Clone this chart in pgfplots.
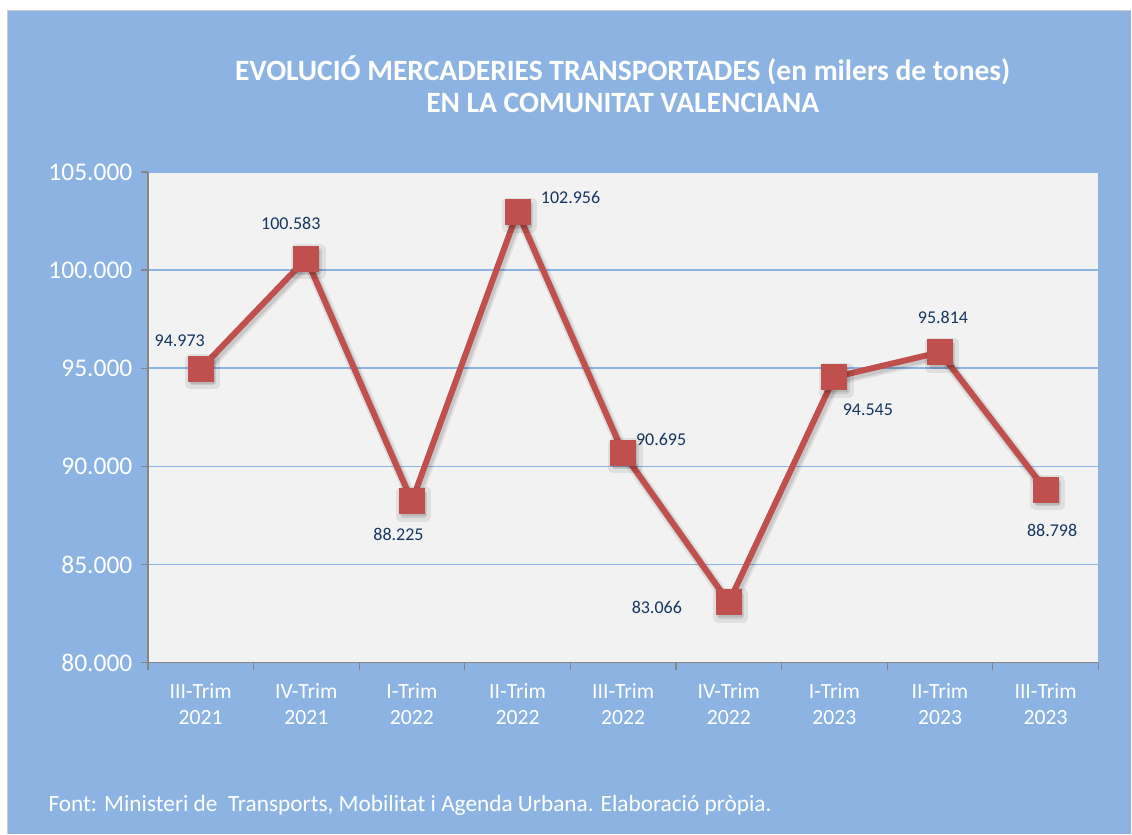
\documentclass[border=0pt]{standalone}
\usepackage{pgfplots}
\pgfplotsset{compat=1.18}
\usepackage{fontspec}
\setmainfont{Carlito}
\definecolor{bgblue}{RGB}{141,179,226}
\definecolor{plotbg}{RGB}{242,242,242}
\definecolor{gridblue}{RGB}{141,179,226}
\definecolor{linered}{RGB}{192,80,77}
\definecolor{labnavy}{RGB}{23,55,94}
\definecolor{axgray}{RGB}{134,134,134}
\pgfplotstableread{
x y
0 94973
1 100583
2 88225
3 102956
4 90695
5 83066
6 94545
7 95814
8 88798
}\datatable
\begin{document}
\begin{tikzpicture}[x=1pt,y=1pt]
\fill[white] (0,0) rectangle (1132,834);
\fill[bgblue] (8,0) rectangle (1132,823);
\draw[gray!40,line width=1.2pt] (7.5,0) -- (7.5,823.5) -- (1132,823.5);
\node[text=white,font=\fontsize{29.5}{34}\selectfont\bfseries] at (623,764) {EVOLUCIÓ MERCADERIES TRANSPORTADES (en milers de tones)};
\node[text=white,font=\fontsize{29.5}{34}\selectfont\bfseries] at (623,731) {EN LA COMUNITAT VALENCIANA};
\node[text=white,anchor=west,font=\fontsize{23.3}{27}\selectfont] at (45,28) {Font: Ministeri de\ \ Transports, Mobilitat i Agenda Urbana. Elaboració pròpia.};
\begin{axis}[
  at={(148pt,171pt)}, anchor=south west,
  scale only axis, width=951pt, height=491pt,
  xmin=-0.5, xmax=8.5, ymin=80000, ymax=105000,
  scaled y ticks=false,
  axis background/.style={fill=plotbg},
  axis x line*=bottom, axis y line*=left,
  axis line style={axgray, line width=1.2pt, -},
  xtick={0,...,8},
  xticklabels={{III-Trim\\2021},{IV-Trim\\2021},{I-Trim\\2022},{II-Trim\\2022},{III-Trim\\2022},{IV-Trim\\2022},{I-Trim\\2023},{II-Trim\\2023},{III-Trim\\2023}},
  x tick label style={align=center, text=white, font=\fontsize{21.7}{26}\selectfont, yshift=-10pt},
  major x tick style={draw=none},
  minor xtick={-0.5,0.5,...,8.5},
  minor x tick style={axgray, line width=1.2pt},
  minor tick length=7pt,
  ytick={80000,85000,90000,95000,100000,105000},
  yticklabels={80.000,85.000,90.000,95.000,100.000,105.000},
  y tick label style={text=white, font=\fontsize{25.5}{29}\selectfont, xshift=-5pt},
  major y tick style={axgray, line width=1.2pt},
  major tick length=7pt,
  tick align=outside,
  ymajorgrids, major grid style={gridblue, line width=1.5pt},
  /pgf/number format/assume math mode=true,
  clip=false,
]
\addplot[black, opacity=0.08, line width=11pt, line join=round, xshift=2pt, yshift=-3pt,
  mark=square*, mark size=12pt, mark options={draw=none, fill=black}] table[x=x,y=y]{\datatable};
\addplot[black, opacity=0.10, line width=7pt, line join=round, xshift=2pt, yshift=-3pt,
  mark=square*, mark size=10pt, mark options={draw=none, fill=black}] table[x=x,y=y]{\datatable};
\addplot[linered, line width=6pt, line join=miter,
  mark=square*, mark size=10pt, mark options={draw=none, fill=linered}] table[x=x,y=y]{\datatable};
\begin{scope}[every node/.style={text=labnavy, font=\fontsize{18}{21}\selectfont}]
\node at (axis cs:0,94973) [xshift=-21pt, yshift=28pt] {94.973};
\node at (axis cs:1,100583) [xshift=-15.5pt, yshift=35.5pt] {100.583};
\node at (axis cs:2,88225) [xshift=-13.5pt, yshift=-33.5pt] {88.225};
\node at (axis cs:3,102956) [xshift=53pt, yshift=15pt] {102.956};
\node at (axis cs:4,90695) [xshift=38pt, yshift=13pt] {90.695};
\node at (axis cs:5,83066) [xshift=-72pt, yshift=-5pt] {83.066};
\node at (axis cs:6,94545) [xshift=33.5pt, yshift=-33pt] {94.545};
\node at (axis cs:7,95814) [xshift=3pt, yshift=35pt] {95.814};
\node at (axis cs:8,88798) [xshift=6.5pt, yshift=-40.5pt] {88.798};
\end{scope}
\end{axis}
\end{tikzpicture}
\end{document}
